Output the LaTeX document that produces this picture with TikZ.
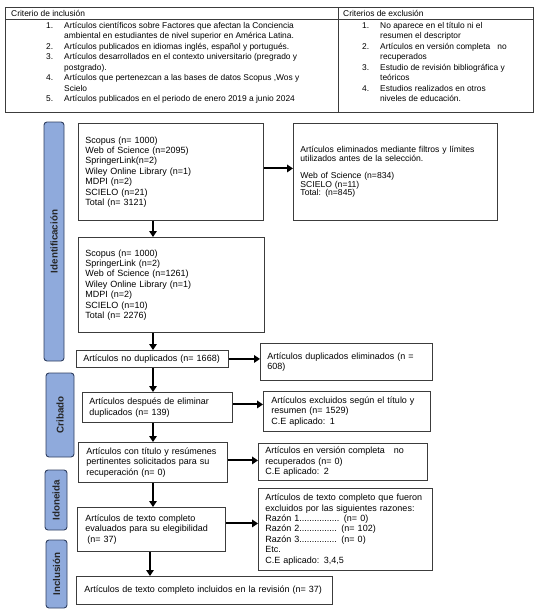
\documentclass[tikz,border=0pt]{standalone}
\usepackage{fontspec}
\setmainfont{Liberation Sans}
\usetikzlibrary{arrows.meta,calc}
\definecolor{fasefill}{RGB}{143,170,220}
\definecolor{faseline}{RGB}{47,63,96}
\definecolor{borde}{RGB}{60,60,60}

\begin{document}
\begin{tikzpicture}[x=1pt,y=-1pt,
		caja/.style={draw=borde, line width=0.9pt, anchor=north west, align=left, inner xsep=7pt, inner ysep=0pt, font=\fontsize{9}{10.4}\selectfont},
		fase/.style={draw=faseline, line width=0.9pt, fill=fasefill, rounded corners=3pt, rotate=90, inner sep=0pt, text=black!85, font=\fontsize{9.8}{11}\selectfont\bfseries},
		flecha/.style={line width=2pt, -{Triangle[length=6pt,width=7.5pt]}},
		lista/.style={anchor=north west, inner sep=0pt, font=\fontsize{8.4}{10.5}\selectfont}]
	\useasboundingbox (0,0) rectangle (539,613);

	% tabla de criterios
	\draw[borde, line width=0.8pt] (5,7) rectangle (533,112);
	\draw[borde, line width=0.8pt] (5,19) -- (533,19);
	\draw[borde, line width=0.8pt] (338,7) -- (338,112);
	\node[anchor=west, inner sep=0pt, font=\fontsize{8.4}{10}\selectfont] (tinc) at (11,13) {Criterio de inclusión};
	\node[anchor=west, inner sep=0pt, font=\fontsize{8.4}{10}\selectfont] (texc) at (343,13) {Criterios de exclusión};
	\node[lista] (inc) at (46,20.5) {\begin{tabular}{@{}r@{\hspace{11pt}}l@{}}
			1. & Artículos científicos sobre Factores que afectan la Conciencia\\
			& ambiental en estudiantes de nivel superior en América Latina.\\
			2. & Artículos publicados en idiomas inglés, español y portugués.\\
			3. & Artículos desarrollados en el contexto universitario (pregrado y\\
			& postgrado).\\
			4. & Artículos que pertenezcan a las bases de datos Scopus ,Wos y\\
			& Scielo\\
			5. & Artículos publicados en el periodo de enero 2019 a junio 2024
		\end{tabular}};
	\node[lista] (exc) at (362,20.5) {\begin{tabular}{@{}r@{\hspace{11pt}}l@{}}
			1. & No aparece en el título ni el\\
			& resumen el descriptor\\
			2. & Artículos en versión completa\ \ \ no\\
			& recuperados\\
			3. & Estudio de revisión bibliográfica y\\
			& teóricos\\
			4. & Estudios realizados en otros\\
			& niveles de educación.
		\end{tabular}};

	% etapas
	\node[fase, minimum width=239pt, minimum height=20pt] (ident) at (54,241.5) {Identificación};
	\node[fase, minimum width=84pt, minimum height=28pt] (crib) at (60,415) {Cribado};
	\node[fase, minimum width=60pt, minimum height=22pt] (idon) at (56,500) {Idoneida};
	\node[fase, minimum width=68pt, minimum height=21pt] (incl) at (56.5,574) {Inclusión};

	% cajas principales
	\node[caja, minimum height=97pt, text width=171pt] (b1) at (78,123) {Scopus (n= 1000)\\Web of Science (n=2095)\\SpringerLink(n=2)\\Wiley Online Library (n=1)\\MDPI (n=2)\\SCIELO (n=21)\\Total (n= 3121)};
	\node[caja, minimum height=95pt, text width=172pt] (b2) at (78,237) {Scopus (n= 1000)\\SpringerLink (n=2)\\Web of Science (n=1261)\\Wiley Online Library (n=1)\\MDPI (n=2)\\SCIELO (n=10)\\Total (n= 2276)};
	\node[caja, minimum height=17pt, text width=138pt] (b3) at (76,350) {Artículos no duplicados (n= 1668)};
	\node[caja, minimum height=30pt, text width=136pt] (b4) at (82,392) {Artículos después de eliminar\\duplicados (n= 139)};
	\node[caja, minimum height=40pt, text width=133pt, inner xsep=8pt] (b5) at (78,442) {Artículos con título y resúmenes\\pertinentes solicitados para su\\recuperación (n= 0)};
	\node[caja, minimum height=44pt, text width=132pt, inner xsep=8pt] (b6) at (77,507) {Artículos de texto completo\\evaluados para su elegibilidad\\\hspace*{2pt}(n= 37)};
	\node[caja, minimum height=28pt, text width=240pt, inner xsep=8pt] (b7) at (76,576) {Artículos de texto completo incluidos en la revisión (n= 37)};

	% cajas de exclusion
	\node[caja, minimum height=97pt, text width=190pt, font=\fontsize{8.6}{8.8}\selectfont] (e1) at (293,123) {Artículos eliminados mediante filtros y límites\\utilizados antes de la selección.\\[8pt]Web of Science (n=834)\\SCIELO (n=11)\\Total: (n=845)};
	\node[caja, minimum height=37pt, text width=158pt] (e2) at (260,343) {Artículos duplicados eliminados (n =\\608)};
	\node[caja, minimum height=40pt, text width=151pt, inner xsep=8pt] (e3) at (263,391) {Artículos excluidos según el título y\\resumen (n= 1529)\\C.E aplicado: 1};
	\node[caja, minimum height=37pt, text width=155pt] (e4) at (258,443) {Artículos en versión completa\ \ \ no\\recuperados (n= 0)\\C.E aplicado: 2};
	\node[caja, minimum height=82pt, text width=160pt] (e5) at (258,488) {Artículos de texto completo que fueron\\excluidos por las siguientes razones:\\Razón 1................ (n= 0)\\Razón 2............... (n= 102)\\Razón 3............... (n= 0)\\Etc.\\C.E aplicado: 3,4,5};

	\coordinate (eje) at (153,0);
	\coordinate (eje2) at (150,0);
	\draw[flecha] (b1.south -| eje) -- (b2.north -| eje);
	\draw[flecha] (b2.south -| eje) -- (b3.north -| eje);
	\draw[flecha] (b3.south -| eje) -- (b4.north -| eje);
	\draw[flecha] (b4.south -| eje) -- (b5.north -| eje);
	\draw[flecha] (b5.south -| eje) -- (b6.north -| eje);
	\draw[flecha] (b6.south -| eje2) -- (b7.north -| eje2);
	\foreach \a/\b/\d in {b1/e1/3.5, b3/e2/0, b4/e3/3, b5/e4/2, b6/e5/6}
		\draw[flecha] ([yshift=\d pt]\a.east) -- ([yshift=\d pt]\a.east -| \b.west);
\end{tikzpicture}
\end{document}
